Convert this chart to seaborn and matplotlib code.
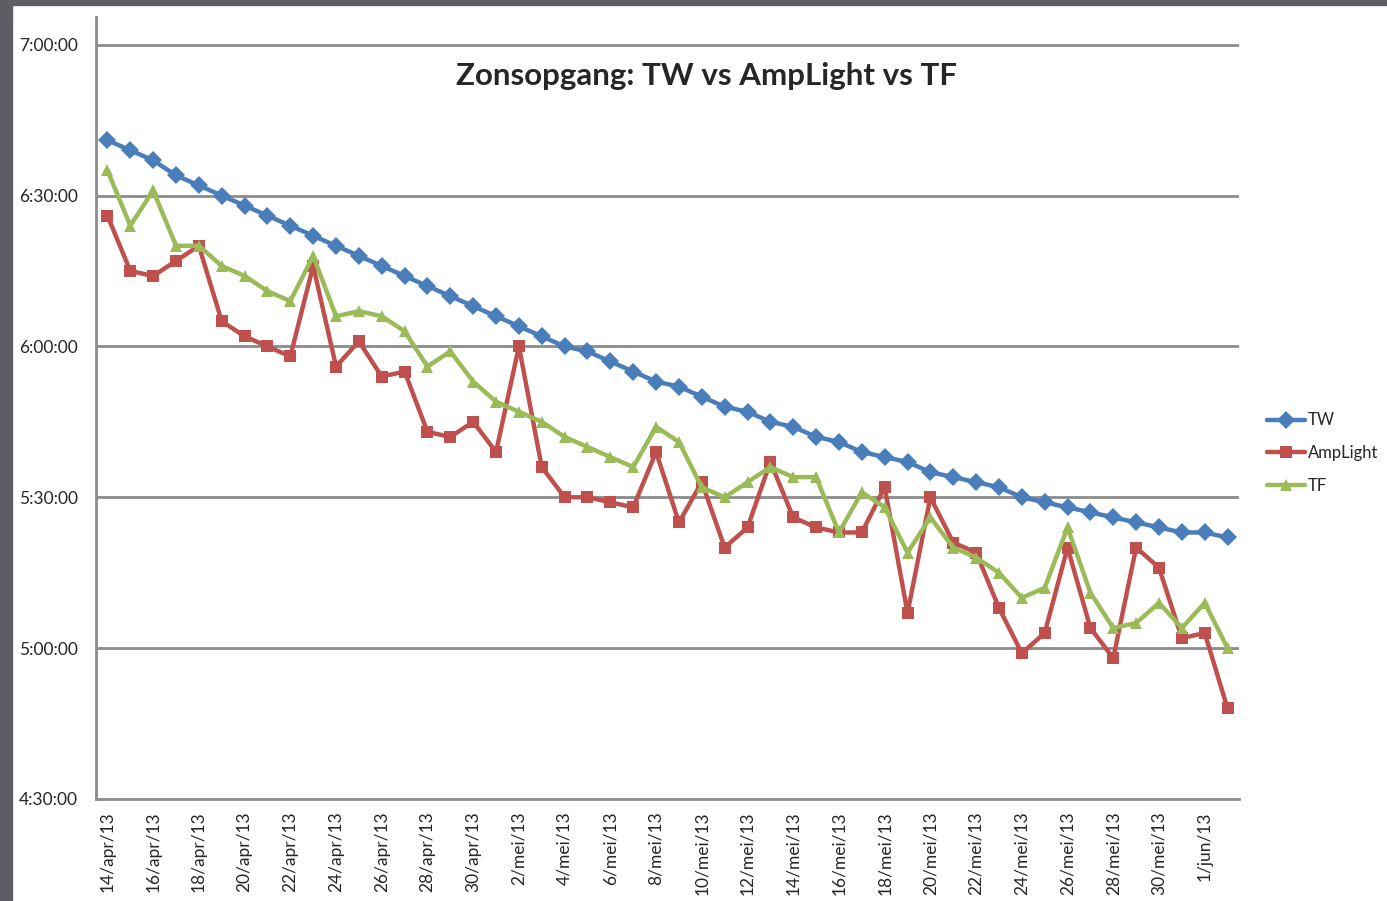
import numpy as np
import pandas as pd
import seaborn as sns
import matplotlib.pyplot as plt
from matplotlib.ticker import MultipleLocator, FixedLocator, FuncFormatter
from matplotlib.patches import Rectangle

# dagen 14 april t/m 2 juni 2013
dates = pd.date_range("2013-04-14", "2013-06-02", freq="D")
maanden = {4: "apr", 5: "mei", 6: "jun"}
date_labels = [f"{d.day}/{maanden[d.month]}/13" for d in dates]

tw = ["6:41", "6:39", "6:37", "6:34", "6:32", "6:30", "6:28", "6:26", "6:24", "6:22",
      "6:20", "6:18", "6:16", "6:14", "6:12", "6:10", "6:08", "6:06", "6:04", "6:02",
      "6:00", "5:59", "5:57", "5:55", "5:53", "5:52", "5:50", "5:48", "5:47", "5:45",
      "5:44", "5:42", "5:41", "5:39", "5:38", "5:37", "5:35", "5:34", "5:33", "5:32",
      "5:30", "5:29", "5:28", "5:27", "5:26", "5:25", "5:24", "5:23", "5:23", "5:22"]
amplight = ["6:26", "6:15", "6:14", "6:17", "6:20", "6:05", "6:02", "6:00", "5:58", "6:16",
            "5:56", "6:01", "5:54", "5:55", "5:43", "5:42", "5:45", "5:39", "6:00", "5:36",
            "5:30", "5:30", "5:29", "5:28", "5:39", "5:25", "5:33", "5:20", "5:24", "5:37",
            "5:26", "5:24", "5:23", "5:23", "5:32", "5:07", "5:30", "5:21", "5:19", "5:08",
            "4:59", "5:03", "5:20", "5:04", "4:58", "5:20", "5:16", "5:02", "5:03", "4:48"]
tf = ["6:35", "6:24", "6:31", "6:20", "6:20", "6:16", "6:14", "6:11", "6:09", "6:18",
      "6:06", "6:07", "6:06", "6:03", "5:56", "5:59", "5:53", "5:49", "5:47", "5:45",
      "5:42", "5:40", "5:38", "5:36", "5:44", "5:41", "5:32", "5:30", "5:33", "5:36",
      "5:34", "5:34", "5:23", "5:31", "5:28", "5:19", "5:26", "5:20", "5:18", "5:15",
      "5:10", "5:12", "5:24", "5:11", "5:04", "5:05", "5:09", "5:04", "5:09", "5:00"]


def to_min(t):
    h, m = t.split(":")
    return int(h) * 60 + int(m)


series = {"TW": tw, "AmpLight": amplight, "TF": tf}
rows = []
for naam, waarden in series.items():
    for i, t in enumerate(waarden):
        rows.append({"dag": i, "minuten": to_min(t), "serie": naam})
df = pd.DataFrame(rows)

sns.set_style("white")
plt.rcParams["font.family"] = ["Lato", "DejaVu Sans"]

fig = plt.figure(figsize=(13.87, 9.01), dpi=100)
fig.patch.set_facecolor("white")
# donkere rand van het screenshot
fig.add_artist(Rectangle((0, 0), 12 / 1387, 1, transform=fig.transFigure,
                         color="#5f5c66", zorder=0))
fig.add_artist(Rectangle((0, 1 - 5 / 901), 1, 5 / 901, transform=fig.transFigure,
                         color="#5f5c66", zorder=0))

ax = fig.add_axes([96 / 1387, 102 / 901, 1143 / 1387, 782 / 901])

palette = {"TW": "#4a7ebb", "AmpLight": "#c0504d", "TF": "#9bbb59"}
markers = {"TW": "D", "AmpLight": "s", "TF": "^"}
sns.lineplot(data=df, x="dag", y="minuten", hue="serie", style="serie",
             palette=palette, markers=markers, dashes=False, linewidth=3.2,
             markersize=9, markeredgewidth=0, ax=ax, legend=True, zorder=3)

ax.set_xlim(-0.5, len(dates) - 0.5)
ax.set_ylim(270, 425.5)

grid_color = "#8c8c8c"
for y in range(300, 421, 30):
    ax.axhline(y, color=grid_color, lw=2, zorder=1)

ax.yaxis.set_major_locator(MultipleLocator(30))
ax.yaxis.set_minor_locator(MultipleLocator(5))
ax.yaxis.set_major_formatter(FuncFormatter(lambda v, p: f"{int(v) // 60}:{int(v) % 60:02d}:00"))
ax.xaxis.set_major_locator(FixedLocator(np.arange(0, len(dates), 2)))
ax.set_xticklabels(date_labels[::2], rotation=90)
ax.xaxis.set_minor_locator(FixedLocator(np.arange(-0.5, len(dates), 2)))

ax.tick_params(axis="x", which="major", length=0, labelsize=12.5, pad=9)
ax.tick_params(axis="x", which="minor", length=5, width=1.5, color=grid_color, direction="out")
ax.tick_params(axis="y", which="both", length=5, width=1.5, color=grid_color,
               direction="out", labelsize=12.5, pad=8)
ax.tick_params(axis="y", which="minor", length=4)

for s in ["top", "right"]:
    ax.spines[s].set_visible(False)
for s in ["left", "bottom"]:
    ax.spines[s].set_color(grid_color)
    ax.spines[s].set_linewidth(2)

ax.set_xlabel("")
ax.set_ylabel("")

handles, labels = ax.get_legend_handles_labels()
ax.get_legend().remove()
fig.legend(handles, labels, loc="center left", bbox_to_anchor=(1267 / 1387, 1 - 453 / 901),
           frameon=False, fontsize=12, handlelength=2.3, handletextpad=0.15,
           labelspacing=1.0, numpoints=1, borderaxespad=0, borderpad=0)

fig.text(707 / 1387, 1 - 76 / 901, "Zonsopgang: TW vs AmpLight vs TF",
         ha="center", va="center", fontsize=22.5, fontweight="bold")

fig.savefig("out.png", dpi=100)
